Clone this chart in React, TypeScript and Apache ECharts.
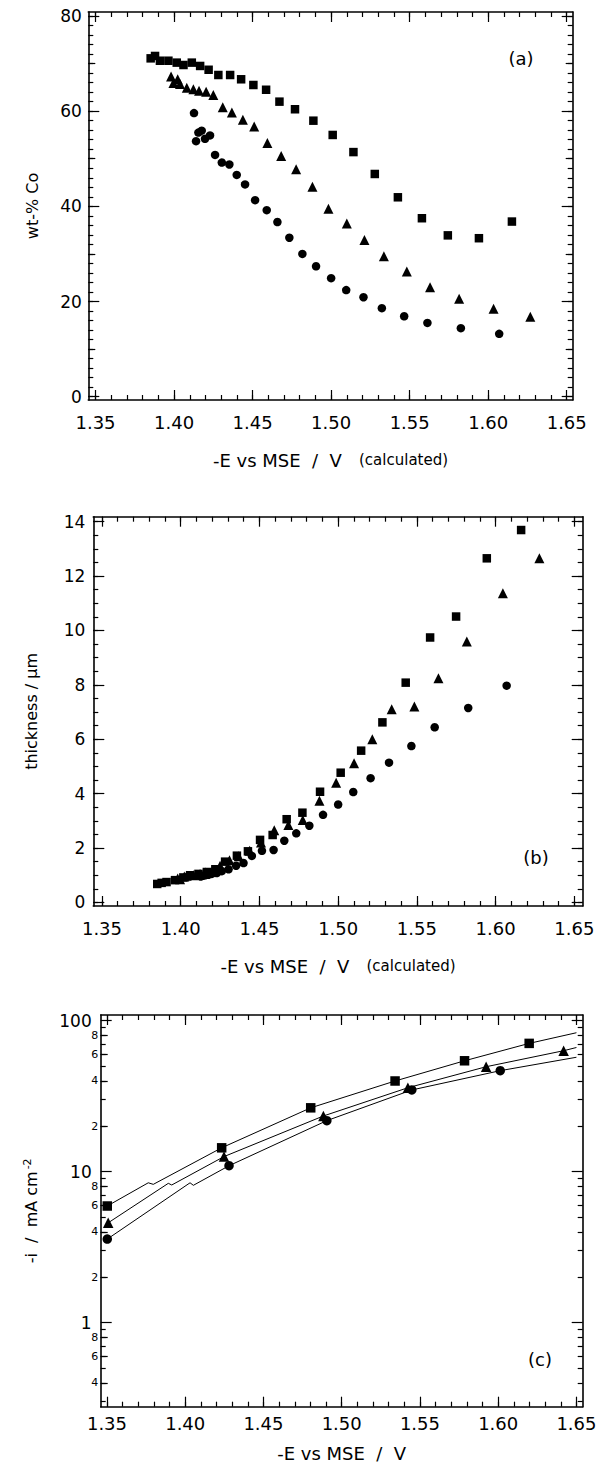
import React, { useEffect, useRef } from "react";
import * as echarts from "echarts";

type P = [number, number];

// ---------- Panel (a): wt-% Co vs -E ----------
const aSquares: P[] = [
  [1.3851, 71.1], [1.3879, 71.6], [1.391, 70.6], [1.3964, 70.6], [1.4017, 70.2], [1.406, 69.7],
  [1.4113, 70.2], [1.4166, 69.5], [1.422, 68.7], [1.4282, 67.6], [1.4357, 67.6], [1.4427, 66.7],
  [1.4505, 65.5], [1.4586, 64.5], [1.4671, 62.0], [1.477, 60.4], [1.4887, 58.0], [1.501, 55.0],
  [1.5142, 51.4], [1.5278, 46.8], [1.5425, 41.9], [1.5578, 37.5], [1.5743, 33.9], [1.5941, 33.3],
  [1.6151, 36.8],
];
const aTriangles: P[] = [
  [1.3981, 67.3], [1.3996, 65.9], [1.4023, 66.7], [1.4038, 65.7], [1.4081, 64.9], [1.4123, 64.6],
  [1.4159, 64.3], [1.4204, 64.1], [1.425, 63.4], [1.431, 60.8], [1.4368, 59.7], [1.4438, 58.2],
  [1.451, 56.8], [1.4594, 53.3], [1.4682, 50.6], [1.4777, 47.8], [1.4881, 44.1], [1.4983, 39.5],
  [1.51, 36.4], [1.5212, 32.9], [1.5336, 29.5], [1.5482, 26.3], [1.563, 23.0], [1.5815, 20.6],
  [1.6034, 18.5], [1.6268, 16.8],
];
const aCircles: P[] = [
  [1.4127, 59.6], [1.414, 53.7], [1.4155, 55.5], [1.4176, 55.9], [1.4197, 54.2], [1.4229, 54.9],
  [1.4261, 50.8], [1.4304, 49.2], [1.4352, 48.8], [1.4399, 46.6], [1.4452, 44.6], [1.4516, 41.3],
  [1.459, 39.2], [1.4658, 36.7], [1.4734, 33.4], [1.4817, 30.0], [1.4904, 27.4], [1.5, 24.9],
  [1.5096, 22.4], [1.5206, 20.9], [1.5323, 18.6], [1.5465, 16.9], [1.5613, 15.5], [1.5826, 14.4],
  [1.607, 13.2],
];

// ---------- Panel (b): thickness vs -E ----------
const bSquares: P[] = [
  [1.3851, 0.68], [1.3879, 0.72], [1.391, 0.75], [1.3964, 0.82], [1.4017, 0.92], [1.406, 1.0],
  [1.4113, 1.05], [1.4166, 1.12], [1.422, 1.22], [1.4282, 1.5], [1.4357, 1.72], [1.4427, 1.88],
  [1.4504, 2.3], [1.4584, 2.48], [1.4673, 3.06], [1.4773, 3.3], [1.4885, 4.07], [1.5016, 4.77],
  [1.5146, 5.58], [1.5281, 6.62], [1.5429, 8.08], [1.5584, 9.74], [1.5749, 10.51], [1.5944, 12.65],
  [1.6162, 13.69],
];
const bTriangles: P[] = [
  [1.3981, 0.88], [1.3996, 0.85], [1.4023, 0.95], [1.4038, 0.98], [1.4081, 1.0], [1.4123, 1.05],
  [1.4159, 1.1], [1.4204, 1.18], [1.425, 1.35], [1.431, 1.55], [1.4368, 1.7], [1.4438, 1.9],
  [1.451, 2.2], [1.4594, 2.65], [1.4684, 2.85], [1.4775, 3.03], [1.4881, 3.74], [1.4987, 4.4],
  [1.5101, 5.12], [1.5217, 6.0], [1.534, 7.1], [1.5484, 7.2], [1.5637, 8.24], [1.5817, 9.59],
  [1.6046, 11.37], [1.6278, 12.65],
];
const bCircles: P[] = [
  [1.4127, 0.95], [1.414, 0.98], [1.4155, 1.0], [1.4176, 1.02], [1.4197, 1.05], [1.4229, 1.08],
  [1.4261, 1.15], [1.4304, 1.22], [1.4352, 1.35], [1.4399, 1.45], [1.4452, 1.71], [1.4516, 1.9],
  [1.459, 1.93], [1.4658, 2.27], [1.4734, 2.54], [1.4817, 2.82], [1.4904, 3.22], [1.5, 3.6],
  [1.5096, 4.06], [1.5206, 4.57], [1.5323, 5.14], [1.5465, 5.75], [1.5613, 6.44], [1.5826, 7.15],
  [1.607, 7.97],
];

// ---------- Panel (c): -i (mA cm-2) vs -E, log scale ----------
const cSquares: P[] = [[1.3502, 5.93], [1.4233, 14.4], [1.4802, 26.5], [1.5341, 39.9], [1.5785, 54.3], [1.6198, 70.8]];
const cTriangles: P[] = [[1.3508, 4.59], [1.4248, 12.6], [1.4883, 23.4], [1.5423, 36.0], [1.5923, 49.6], [1.6418, 63.3]];
const cCircles: P[] = [[1.3502, 3.58], [1.428, 10.96], [1.4905, 21.8], [1.5448, 34.8], [1.6013, 46.7]];
const cSquareCurve: P[] = [
  [1.3502, 5.93], [1.3764, 8.45], [1.3796, 8.25], [1.4233, 14.4], [1.4802, 26.5], [1.5341, 39.9],
  [1.5785, 54.3], [1.6198, 70.8], [1.65, 83.3],
];
const cTriangleCurve: P[] = [
  [1.3508, 4.59], [1.3892, 8.38], [1.3914, 8.17], [1.4248, 12.6], [1.4883, 23.4], [1.5423, 36.0],
  [1.5923, 49.6], [1.6418, 63.3], [1.65, 66.5],
];
const cCircleCurve: P[] = [
  [1.3502, 3.58], [1.4031, 8.45], [1.4052, 8.13], [1.428, 10.96], [1.4905, 21.8], [1.5448, 34.8],
  [1.6013, 46.7], [1.65, 57.3],
];

// ---------- tick labels ----------
const X_LABELS = [1.35, 1.4, 1.45, 1.5, 1.55, 1.6, 1.65];
const A_Y_LABELS = [0, 20, 40, 60, 80];
const B_Y_LABELS = [0, 2, 4, 6, 8, 10, 12, 14];
const C_Y_MAJOR = [1, 10, 100];
const C_Y_MINOR_LABELS = [0.4, 0.6, 0.8, 2, 4, 6, 8, 20, 40, 60, 80];

const FONT = "'DejaVu Sans', 'Liberation Sans', sans-serif";
const BLACK = "#000";
const NB = "\u00A0";

function steps(start: number, end: number, step: number): number[] {
  const out: number[] = [];
  const n = Math.round((end - start) / step);
  for (let i = 0; i <= n; i++) out.push(+(start + i * step).toFixed(6));
  return out;
}

const X_MINOR = steps(1.35, 1.65, 0.01);

function cMinorLogs(): number[] {
  const out: number[] = [];
  for (const d of [0.1, 1, 10]) for (let k = 2; k <= 9; k++) out.push(Math.log10(k * d));
  return out.filter((v) => v > -0.556 && v < 2.038);
}

function tickAxis(gridIndex: number, position: string, min: number, max: number, values: number[], length: number, withLine: boolean, extra: any = {}) {
  return {
    type: "value",
    gridIndex,
    position,
    min,
    max,
    axisLine: { show: withLine, onZero: false, lineStyle: { color: BLACK, width: 1.6 } },
    axisTick: { show: values.length > 0, inside: true, length, customValues: values, lineStyle: { color: BLACK, width: 1.2 } },
    axisLabel: { show: false },
    splitLine: { show: false },
    ...extra,
  };
}

function buildOption() {
  const xAxis: any[] = [];
  const yAxis: any[] = [];
  const series: any[] = [];

  const labelStyle = { color: BLACK, fontFamily: FONT };

  const grids = [
    { left: 88.3, top: 12, width: 484.4, height: 388 },
    { left: 93.3, top: 516.7, width: 489.4, height: 389.3 },
    { left: 100.7, top: 1015, width: 482, height: 391.7 },
  ];
  const xRanges: P[] = [[1.3454, 1.6538], [1.3445, 1.6553], [1.346, 1.654]];
  const xLabelMargins = [13.5, 13.5, 8];
  const xNameGaps = [51, 51, 38];

  const mainX: number[] = [];
  grids.forEach((_, g) => {
    const [mn, mx] = xRanges[g];
    const name = g < 2
      ? `-E vs MSE${NB} /${NB} V${NB}${NB} {s|(calculated)}`
      : `-E vs MSE${NB} /${NB} V`;
    mainX.push(xAxis.length);
    xAxis.push(tickAxis(g, "bottom", mn, mx, X_LABELS, 10, true, {
      axisLabel: {
        show: true, customValues: X_LABELS, formatter: (v: number) => v.toFixed(2),
        fontSize: 18, margin: xLabelMargins[g], ...labelStyle,
      },
      name,
      nameLocation: "middle",
      nameGap: xNameGaps[g],
      nameTextStyle: { fontSize: 18, ...labelStyle, rich: { s: { fontSize: 15, fontFamily: FONT, color: BLACK } } },
    }));
    xAxis.push(tickAxis(g, "bottom", mn, mx, X_MINOR, 5, false));
    xAxis.push(tickAxis(g, "top", mn, mx, X_LABELS, 10, true));
    xAxis.push(tickAxis(g, "top", mn, mx, X_MINOR, 5, false));
  });

  const mainY: number[] = [];
  // (a)
  {
    const mn = -0.7, mx = 80.84;
    mainY.push(yAxis.length);
    yAxis.push(tickAxis(0, "left", mn, mx, A_Y_LABELS, 11, true, {
      axisLabel: { show: true, customValues: A_Y_LABELS, formatter: (v: number) => String(Math.round(v)), fontSize: 17, margin: 6.5, ...labelStyle },
      name: "wt-% Co", nameLocation: "middle", nameGap: 48, nameTextStyle: { fontSize: 16, ...labelStyle },
    }));
    yAxis.push(tickAxis(0, "left", mn, mx, steps(10, 70, 20), 7, false));
    yAxis.push(tickAxis(0, "left", mn, mx, steps(0, 80, 2), 5, false));
    yAxis.push(tickAxis(0, "right", mn, mx, A_Y_LABELS, 11, true));
    yAxis.push(tickAxis(0, "right", mn, mx, steps(10, 70, 20), 7, false));
    yAxis.push(tickAxis(0, "right", mn, mx, steps(0, 80, 2), 5, false));
  }
  // (b)
  {
    const mn = -0.13, mx = 14.18;
    mainY.push(yAxis.length);
    yAxis.push(tickAxis(1, "left", mn, mx, B_Y_LABELS, 11, true, {
      axisLabel: { show: true, customValues: B_Y_LABELS, formatter: (v: number) => String(Math.round(v)), fontSize: 17, margin: 8, ...labelStyle },
      name: "thickness / µm", nameLocation: "middle", nameGap: 54, nameTextStyle: { fontSize: 16, ...labelStyle },
    }));
    yAxis.push(tickAxis(1, "left", mn, mx, steps(0, 14, 0.5), 5, false));
    yAxis.push(tickAxis(1, "right", mn, mx, B_Y_LABELS, 11, true));
    yAxis.push(tickAxis(1, "right", mn, mx, steps(0, 14, 0.5), 5, false));
  }
  // (c) data on a log axis, ticks drawn on linear overlays in log10 units
  {
    const lmn = -0.556, lmx = 2.038;
    mainY.push(yAxis.length);
    yAxis.push({
      type: "log", logBase: 10, gridIndex: 2, position: "left",
      min: Math.pow(10, lmn), max: Math.pow(10, lmx),
      axisLine: { show: false }, axisTick: { show: false }, axisLabel: { show: false }, splitLine: { show: false },
      minorTick: { show: false }, minorSplitLine: { show: false },
    });
    const majors = C_Y_MAJOR.map((v) => Math.log10(v));
    const minors = cMinorLogs();
    const labelledMinors = C_Y_MINOR_LABELS.map((v) => Math.log10(v));
    yAxis.push(tickAxis(2, "left", lmn, lmx, majors, 11, true, {
      axisLabel: { show: true, customValues: majors, formatter: (v: number) => String(Math.round(Math.pow(10, v))), fontSize: 17, margin: 9, ...labelStyle },
      name: `-i${NB} /${NB} mA cm{sup|-2}`, nameLocation: "middle", nameGap: 60,
      nameTextStyle: { fontSize: 16, ...labelStyle, rich: { sup: { fontSize: 11, fontFamily: FONT, color: BLACK, verticalAlign: "top", padding: [0, 0, 8, 2] } } },
    }));
    yAxis.push(tickAxis(2, "left", lmn, lmx, labelledMinors, 7, false, {
      axisLabel: {
        show: true, customValues: labelledMinors, fontSize: 11, margin: 2.5, ...labelStyle,
        formatter: (v: number) => {
          const e = Math.floor(v + 1e-9);
          return String(Math.round(Math.pow(10, v) / Math.pow(10, e)));
        },
      },
    }));
    yAxis.push(tickAxis(2, "left", lmn, lmx, minors, 5, false));
    yAxis.push(tickAxis(2, "right", lmn, lmx, majors, 11, true));
    yAxis.push(tickAxis(2, "right", lmn, lmx, minors, 5, false));
  }

  const scatter = (g: number, data: P[], symbol: string, size: number) => ({
    type: "scatter", data, symbol, symbolSize: size, xAxisIndex: mainX[g], yAxisIndex: mainY[g],
    itemStyle: { color: BLACK, opacity: 1 }, silent: true, z: 3,
  });
  const curve = (data: P[]) => ({
    type: "line", data, showSymbol: false, symbol: "none", xAxisIndex: mainX[2], yAxisIndex: mainY[2],
    lineStyle: { color: BLACK, width: 1 }, smooth: false, silent: true, z: 2,
  });

  series.push(scatter(0, aSquares, "rect", 8.5));
  series.push(scatter(0, aTriangles, "triangle", 10));
  series.push(scatter(0, aCircles, "circle", 8.5));
  series.push(scatter(1, bSquares, "rect", 8.5));
  series.push(scatter(1, bTriangles, "triangle", 10));
  series.push(scatter(1, bCircles, "circle", 8.5));
  series.push(curve(cSquareCurve));
  series.push(curve(cTriangleCurve));
  series.push(curve(cCircleCurve));
  series.push(scatter(2, cSquares, "rect", 9.5));
  series.push(scatter(2, cTriangles, "triangle", 10.5));
  series.push(scatter(2, cCircles, "circle", 9.5));

  const letter = (text: string, x: number, y: number) => ({
    type: "text", x, y, silent: true,
    style: { text, fontSize: 18, fontFamily: FONT, fill: BLACK, align: "center", verticalAlign: "middle", textAlign: "center", textVerticalAlign: "middle" },
  });

  return {
    animation: false,
    backgroundColor: "#fff",
    textStyle: { fontFamily: FONT, color: BLACK },
    grid: grids.map((g) => ({ ...g, containLabel: false, outerBoundsMode: "none" })),
    xAxis,
    yAxis,
    series,
    graphic: [letter("(a)", 521, 58), letter("(b)", 536, 857), letter("(c)", 540, 1359)],
  };
}

export default function App() {
  const ref = useRef<HTMLDivElement>(null);
  useEffect(() => {
    if (!ref.current) return;
    const chart = echarts.init(ref.current, null, { renderer: "svg" });
    chart.setOption(buildOption() as any);
    return () => chart.dispose();
  }, []);
  return (
    <div
      ref={ref}
      style={{ position: "absolute", left: 0, top: 0, width: 600, height: 1476, background: "#fff" }}
    />
  );
}
